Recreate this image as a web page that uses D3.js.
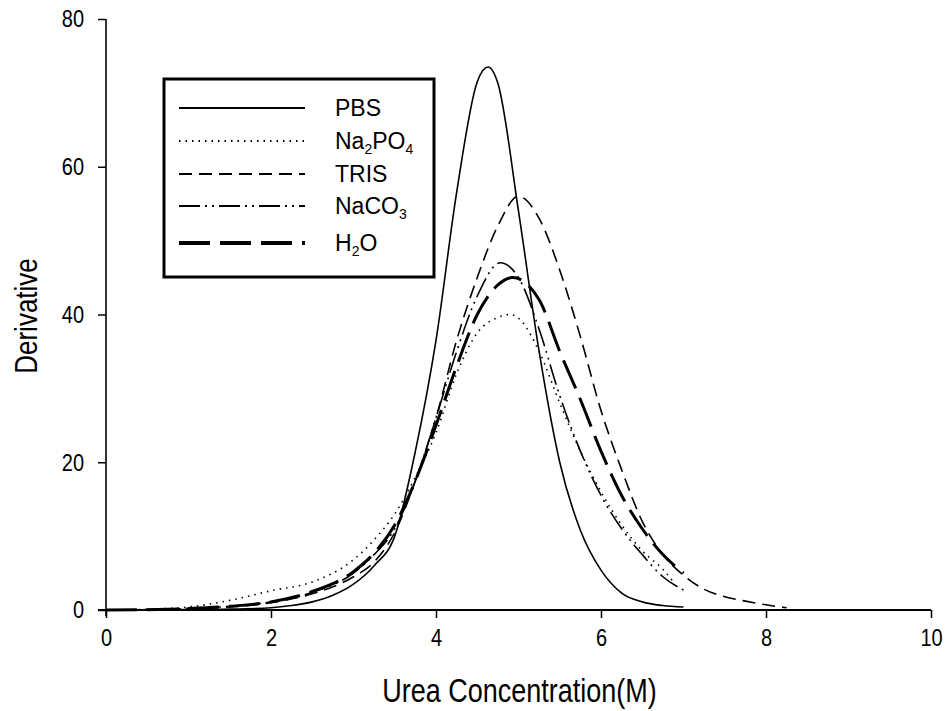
<!DOCTYPE html>
<html>
<head>
<meta charset="utf-8">
<script src="https://cdn.jsdelivr.net/npm/d3@7"></script>
<style>
  html, body { margin: 0; padding: 0; background: #fff; }
  svg text { font-family: "Liberation Sans", Arial, sans-serif; fill: #000; }
  /* glyphs in this figure are drawn a little taller than the base font */
  svg text.tall { transform-box: fill-box; transform-origin: center; transform: scaleY(1.2); }
</style>
</head>
<body>
<svg id="chart" width="946" height="711"></svg>
<script>
// Derivative of unfolding transitions versus urea concentration, one curve per buffer
const xTicks = [0, 2, 4, 6, 8, 10];
const yTicks = [0, 20, 40, 60, 80];

const pbsUrea  = [0, 0.5, 1, 1.5, 2, 2.25, 2.5, 2.75, 3, 3.25, 3.5, 3.75, 4, 4.25, 4.5, 4.63, 4.75, 5, 5.25, 5.5, 5.75, 6, 6.25, 6.5, 6.75, 7];
const pbsDeriv = [0, 0.02, 0.05, 0.12, 0.3, 0.6, 1.1, 2, 3.5, 6, 10, 21.5, 36.5, 56.5, 71.5, 73.5, 71.3, 54, 35, 20, 10.8, 5.4, 2.3, 1.1, 0.6, 0.4];

const na2po4Urea  = [0, 0.5, 1, 1.5, 2, 2.5, 3, 3.25, 3.5, 3.75, 4, 4.25, 4.5, 4.75, 4.9, 5, 5.25, 5.5, 5.75, 6, 6.25, 6.5, 6.75, 6.9];
const na2po4Deriv = [0, 0.1, 0.4, 1.3, 2.6, 3.8, 6.8, 9.5, 13, 18, 24, 32, 37.5, 39.6, 40, 39.5, 35, 28, 21.5, 16, 11.5, 8, 5.5, 3.5];

const trisUrea  = [0, 0.5, 1, 1.5, 2, 2.5, 3, 3.25, 3.5, 3.75, 4, 4.25, 4.5, 4.75, 5, 5.25, 5.5, 5.75, 6, 6.25, 6.5, 6.75, 7, 7.25, 7.5, 7.75, 8, 8.25];
const trisDeriv = [0, 0.05, 0.2, 0.4, 1.0, 2.2, 4.5, 6.5, 10.5, 17.5, 26, 36.5, 45, 52, 56, 53, 46, 37, 27, 19, 12, 7.5, 4.7, 2.8, 1.8, 1.2, 0.7, 0.3];

const naco3Urea  = [0, 0.5, 1, 1.5, 2, 2.5, 3, 3.25, 3.5, 3.75, 4, 4.25, 4.5, 4.78, 5, 5.25, 5.5, 5.75, 6, 6.25, 6.5, 6.75, 7];
const naco3Deriv = [0, 0.05, 0.2, 0.5, 1.1, 2.4, 5, 7.5, 11, 17.5, 26, 35, 42.5, 47, 45, 38, 29, 21.5, 15.5, 11, 7.5, 4.5, 2.7];

const h2oUrea  = [0, 0.5, 1, 1.5, 2, 2.5, 3, 3.25, 3.5, 3.75, 4, 4.25, 4.5, 4.75, 4.93, 5.25, 5.5, 5.75, 6, 6.25, 6.5, 6.75, 7];
const h2oDeriv = [0, 0.05, 0.2, 0.5, 1.1, 2.5, 5.2, 7.7, 11.5, 17.5, 25, 33, 40, 44, 45, 42, 35, 28.5, 21.5, 15.5, 11, 7.5, 5];

const series = [
  { name: "PBS",    urea: pbsUrea,    deriv: pbsDeriv,    dash: null,           width: 1.6 },
  { name: "Na2PO4", urea: na2po4Urea, deriv: na2po4Deriv, dash: "1.5,5",        width: 1.6 },
  { name: "TRIS",   urea: trisUrea,   deriv: trisDeriv,   dash: "13,7",         width: 1.6 },
  { name: "NaCO3",  urea: naco3Urea,  deriv: naco3Deriv,  dash: "21,5,2,5,2,5", width: 1.6 },
  { name: "H2O",    urea: h2oUrea,    deriv: h2oDeriv,    dash: "31,10",        width: 3 }
];

const svg = d3.select("#chart");
const plotLeft = 106, plotRight = 931, plotTop = 19, plotBottom = 610;

const x = d3.scaleLinear().domain([0, 10]).range([plotLeft, plotRight]);
const y = d3.scaleLinear().domain([0, 80]).range([plotBottom, plotTop]);

// axes
const xAxis = d3.axisBottom(x).tickValues(xTicks).tickSize(8).tickPadding(12).tickFormat(d3.format("d"));
const yAxis = d3.axisLeft(y).tickValues(yTicks).tickSize(8).tickPadding(14).tickFormat(d3.format("d"));

const gx = svg.append("g").attr("transform", `translate(0,${plotBottom})`).call(xAxis);
const gy = svg.append("g").attr("transform", `translate(${plotLeft},0)`).call(yAxis);

[gx, gy].forEach(g => {
  g.select(".domain").remove();
  g.selectAll(".tick line").attr("stroke", "#000").attr("stroke-width", 1.5);
  g.selectAll(".tick text").attr("class", "tall").attr("font-size", 20)
    .attr("font-family", "Liberation Sans, Arial, sans-serif").attr("fill", "#000");
});

// axis lines, extended slightly past the origin
svg.append("line").attr("x1", plotLeft - 8).attr("x2", plotRight).attr("y1", plotBottom).attr("y2", plotBottom)
  .attr("stroke", "#000").attr("stroke-width", 2);
svg.append("line").attr("x1", plotLeft).attr("x2", plotLeft).attr("y1", plotTop).attr("y2", plotBottom + 6)
  .attr("stroke", "#000").attr("stroke-width", 1.6);

// curves
const line = d3.line().x(d => x(d[0])).y(d => y(d[1])).curve(d3.curveMonotoneX);
series.forEach(s => {
  const pts = s.urea.map((u, i) => [u, s.deriv[i]]);
  svg.append("path")
    .datum(pts)
    .attr("d", line)
    .attr("fill", "none")
    .attr("stroke", "#000")
    .attr("stroke-width", s.width)
    .attr("stroke-dasharray", s.dash);
});

// axis titles
svg.append("text").attr("class", "tall").attr("x", (plotLeft + plotRight) / 2 + 1).attr("y", 700)
  .attr("text-anchor", "middle").attr("font-size", 27).text("Urea Concentration(M)");
svg.append("g").attr("transform", "translate(35,316) rotate(-90)")
  .append("text").attr("class", "tall")
  .attr("text-anchor", "middle").attr("font-size", 26).text("Derivative");

// legend
const lg = svg.append("g");
lg.append("rect").attr("x", 164).attr("y", 79).attr("width", 270).attr("height", 198)
  .attr("fill", "#fff").attr("stroke", "#000").attr("stroke-width", 3);

const legendY = [108, 141, 174, 206, 243];
const labelParts = {
  "PBS":    [["PBS", false]],
  "Na2PO4": [["Na", false], ["2", true], ["PO", false], ["4", true]],
  "TRIS":   [["TRIS", false]],
  "NaCO3":  [["NaCO", false], ["3", true]],
  "H2O":    [["H", false], ["2", true], ["O", false]]
};

series.forEach((s, i) => {
  const yy = legendY[i];
  lg.append("line").attr("x1", 179).attr("x2", 305).attr("y1", yy).attr("y2", yy)
    .attr("stroke", "#000").attr("stroke-width", s.name === "H2O" ? 4 : 2)
    .attr("stroke-dasharray", s.dash);
  const t = lg.append("text").attr("x", 335).attr("y", yy + 8).attr("font-size", 23);
  labelParts[s.name].forEach(([txt, sub], k) => {
    const ts = t.append("tspan").text(txt);
    if (sub) ts.attr("font-size", 14).attr("dy", 5);
    else if (k > 0) ts.attr("dy", -5);
  });
});
</script>
</body>
</html>
